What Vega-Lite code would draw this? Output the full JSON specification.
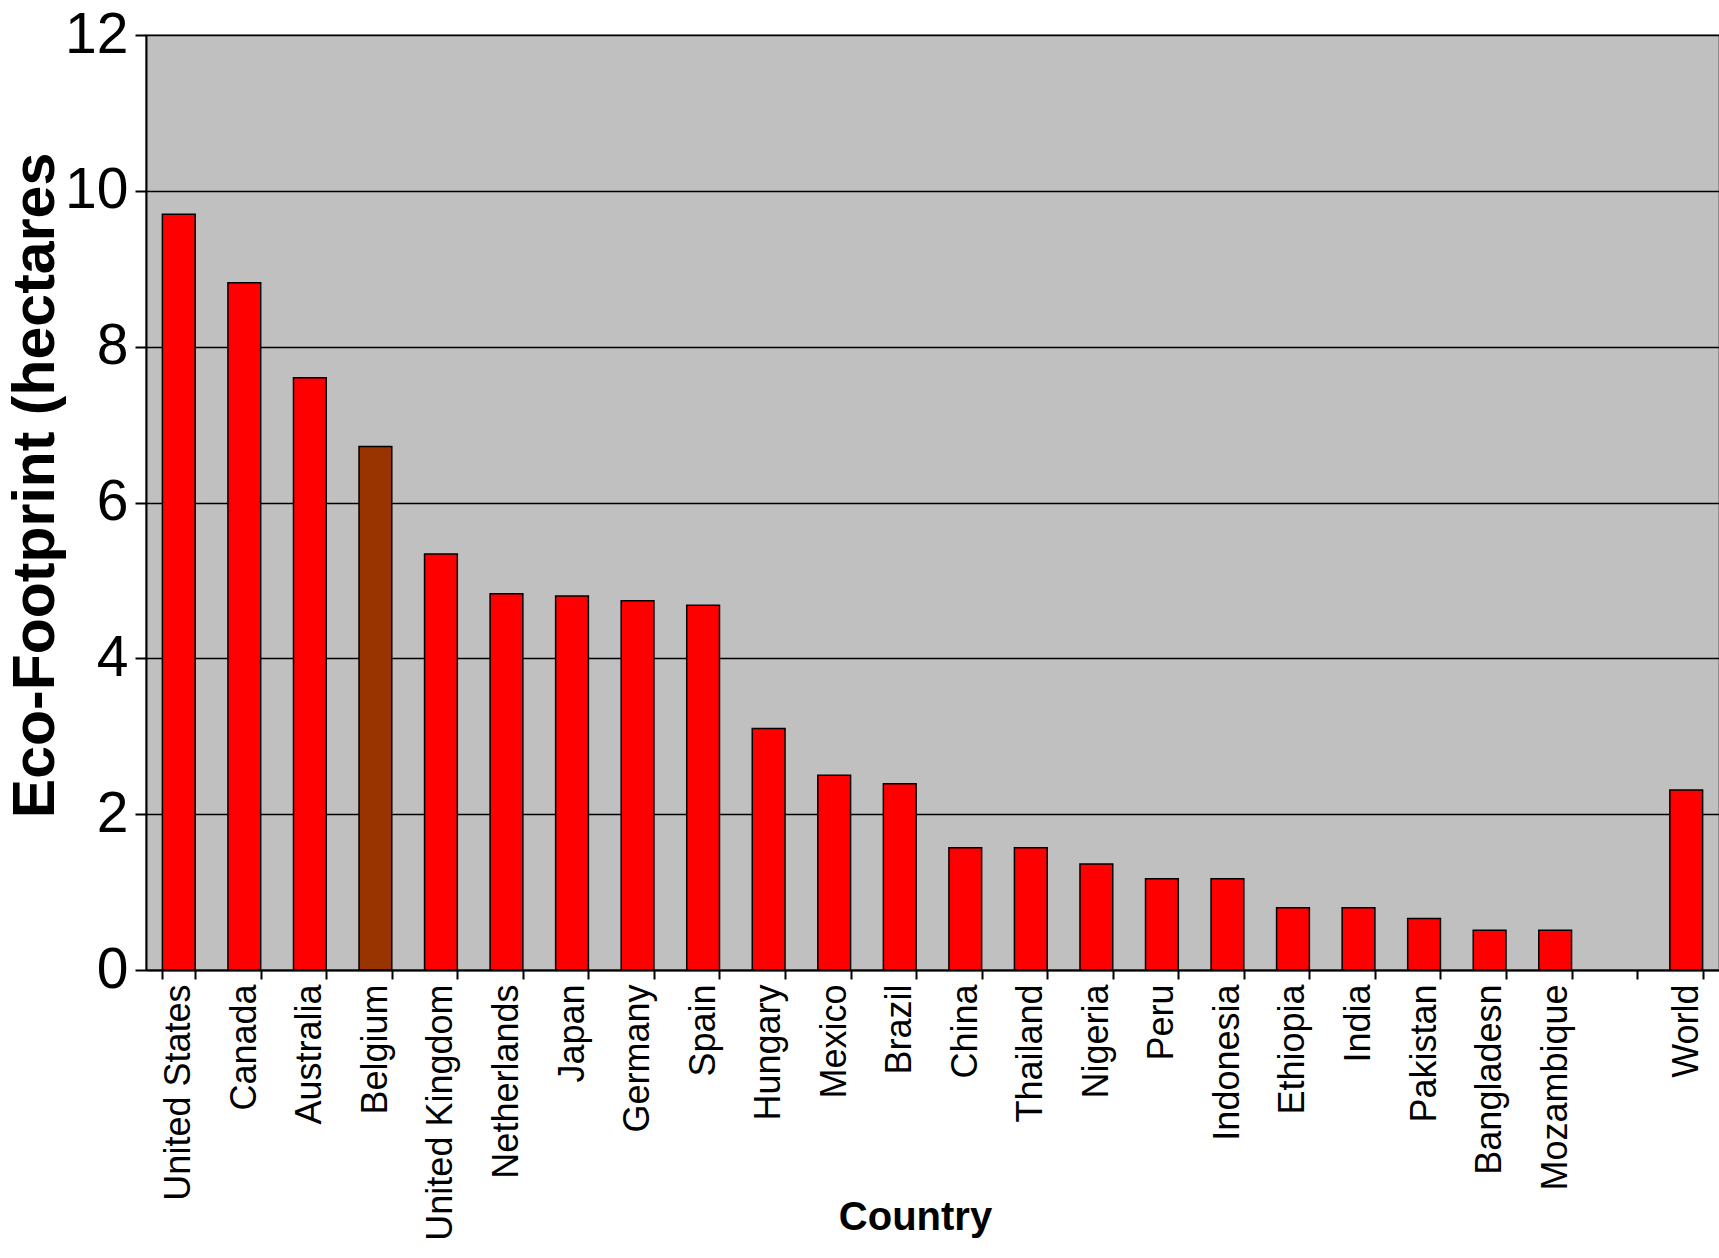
{
  "$schema": "https://vega.github.io/schema/vega-lite/v6.json",
  "autosize": {"type": "none"},
  "padding": {"left": 146, "top": 35, "right": 0, "bottom": 288},
  "width": 1573,
  "height": 935,
  "background": "white",
  "config": {
    "view": {"fill": "#c0c0c0", "stroke": "#808080", "strokeWidth": 1.5},
    "font": "Liberation Sans"
  },
  "data": {
    "values": [
      {"country": "United States", "value": 9.7, "group": "red"},
      {"country": "Canada", "value": 8.82, "group": "red"},
      {"country": "Australia", "value": 7.6, "group": "red"},
      {"country": "Belgium", "value": 6.72, "group": "brown"},
      {"country": "United Kingdom", "value": 5.34, "group": "red"},
      {"country": "Netherlands", "value": 4.83, "group": "red"},
      {"country": "Japan", "value": 4.8, "group": "red"},
      {"country": "Germany", "value": 4.74, "group": "red"},
      {"country": "Spain", "value": 4.68, "group": "red"},
      {"country": "Hungary", "value": 3.1, "group": "red"},
      {"country": "Mexico", "value": 2.5, "group": "red"},
      {"country": "Brazil", "value": 2.39, "group": "red"},
      {"country": "China", "value": 1.57, "group": "red"},
      {"country": "Thailand", "value": 1.57, "group": "red"},
      {"country": "Nigeria", "value": 1.36, "group": "red"},
      {"country": "Peru", "value": 1.17, "group": "red"},
      {"country": "Indonesia", "value": 1.17, "group": "red"},
      {"country": "Ethiopia", "value": 0.8, "group": "red"},
      {"country": "India", "value": 0.8, "group": "red"},
      {"country": "Pakistan", "value": 0.66, "group": "red"},
      {"country": "Bangladesn", "value": 0.51, "group": "red"},
      {"country": "Mozambique", "value": 0.51, "group": "red"},
      {"country": "World", "value": 2.31, "group": "red"}
    ]
  },
  "mark": {"type": "bar", "stroke": "black", "strokeWidth": 1.5},
  "encoding": {
    "x": {
      "field": "country",
      "type": "nominal",
      "sort": null,
      "scale": {
        "domain": ["United States", "Canada", "Australia", "Belgium", "United Kingdom", "Netherlands", "Japan", "Germany", "Spain", "Hungary", "Mexico", "Brazil", "China", "Thailand", "Nigeria", "Peru", "Indonesia", "Ethiopia", "India", "Pakistan", "Bangladesn", "Mozambique", " ", "World"],
        "paddingInner": 0.5,
        "paddingOuter": 0.25
      },
      "axis": {
        "title": "Country",
        "titleFont": "Liberation Sans",
        "titleFontSize": 40,
        "titleFontWeight": "bold",
        "titleColor": "black",
        "titleX": 769,
        "titleY": 247,
        "titleBaseline": "middle",
        "labelAngle": -90,
        "labelFontSize": 36,
        "labelColor": "black",
        "labelFont": "Liberation Sans",
        "labelPadding": 5,
        "labelLimit": 0,
        "tickBand": "extent",
        "tickSize": 9,
        "tickWidth": 2,
        "tickColor": "black",
        "domainColor": "black",
        "domainWidth": 2,
        "grid": false,
        "labelOverlap": false
      }
    },
    "y": {
      "field": "value",
      "type": "quantitative",
      "scale": {"domain": [0, 12], "nice": false},
      "axis": {
        "title": "Eco-Footprint (hectares",
        "titleFont": "Liberation Sans",
        "titleFontSize": 59,
        "titleFontWeight": "bold",
        "titleColor": "black",
        "titleAngle": -90,
        "titleX": -111,
        "titleY": 450,
        "titleAlign": "center",
        "titleBaseline": "middle",
        "values": [0, 2, 4, 6, 8, 10, 12],
        "labelFontSize": 57,
        "labelColor": "black",
        "labelFont": "Liberation Sans",
        "labelPadding": 7,
        "tickSize": 11,
        "tickWidth": 2,
        "tickColor": "black",
        "domainColor": "black",
        "domainWidth": 2,
        "grid": true,
        "gridColor": "black",
        "gridWidth": 1.5,
        "gridOpacity": 1
      }
    },
    "color": {
      "field": "group",
      "type": "nominal",
      "scale": {"domain": ["red", "brown"], "range": ["#ff0000", "#993300"]},
      "legend": null
    }
  }
}
